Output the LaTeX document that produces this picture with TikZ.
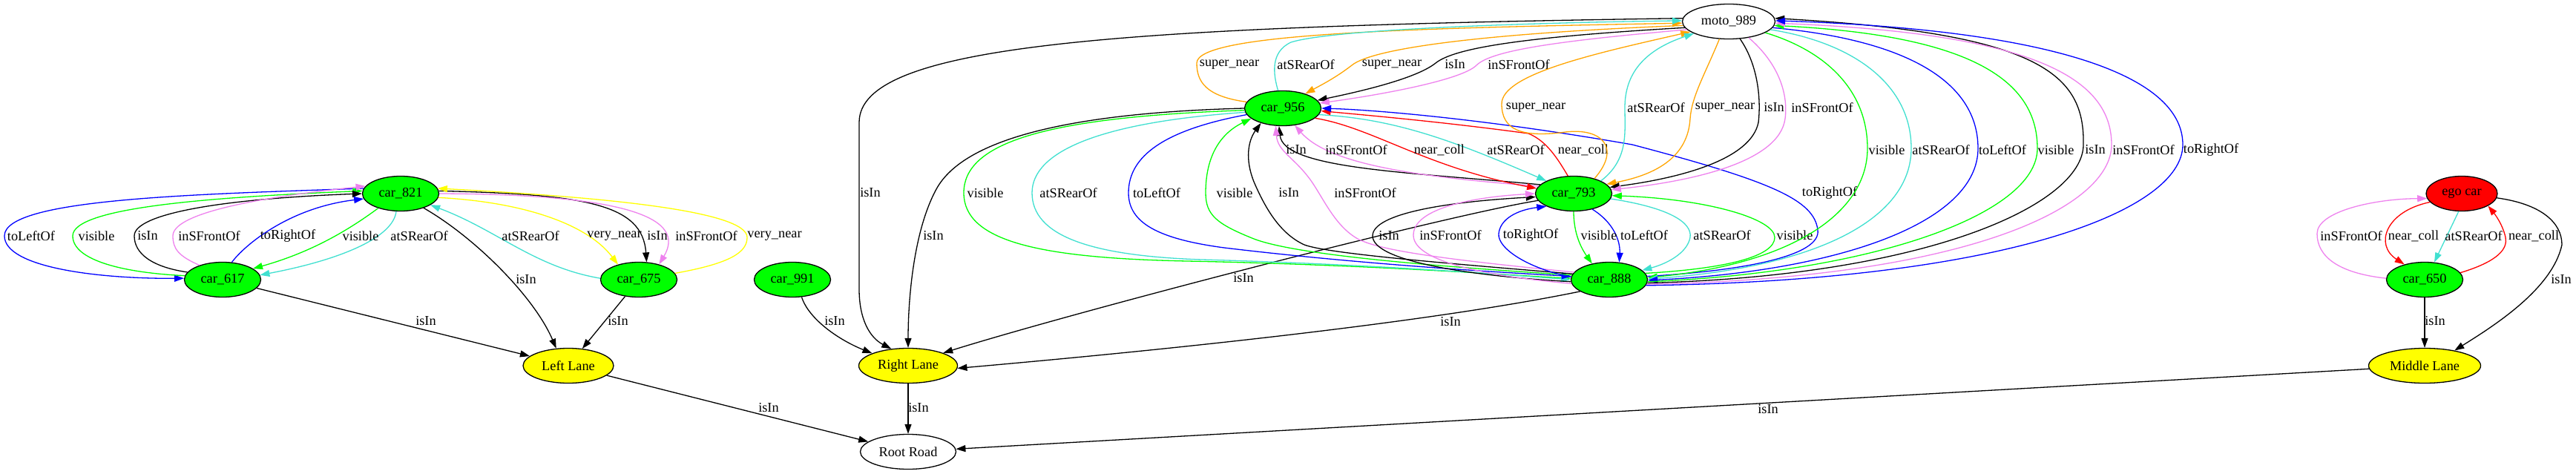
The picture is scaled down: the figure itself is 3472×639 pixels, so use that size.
\documentclass[tikz,border=0pt]{standalone}
\usepackage{fontspec}
\setmainfont{Liberation Serif}
\usetikzlibrary{shapes.geometric,arrows.meta}
\definecolor{gfill}{HTML}{00FF00}
\definecolor{yfill}{HTML}{FFFF00}
\definecolor{rfill}{HTML}{FF0000}
\definecolor{cBlue}{HTML}{0000FF}
\definecolor{cGreen}{HTML}{00FF00}
\definecolor{cCyan}{HTML}{40E0D0}
\definecolor{cViolet}{HTML}{EE82EE}
\definecolor{cOrange}{HTML}{FFA500}
\definecolor{cYellow}{HTML}{FFFF00}
\definecolor{cRed}{HTML}{FF0000}
\newcommand\lblfont{\fontsize{18.3pt}{22pt}\selectfont}
\begin{document}
\begin{tikzpicture}[x=1pt,y=-1pt,
  nd/.style={ellipse,draw=black,line width=1.3pt,inner sep=0pt,minimum height=47pt,font=\lblfont},
  carnd/.style={nd,fill=gfill,minimum width=103pt},
  lanend/.style={nd,fill=yfill},
  edg/.style={line width=1.3pt,-{Triangle[length=13pt,width=9pt]}},
  lb/.style={font=\lblfont,inner sep=0pt,anchor=center}]
\useasboundingbox[fill=white] (0,0) rectangle (3472,639);
% nodes
\node[carnd] (car821) at (540,261) {car\_821};
\node[carnd] (car617) at (300,377) {car\_617};
\node[carnd] (car675) at (861,377) {car\_675};
\node[carnd] (car991) at (1068,377) {car\_991};
\node[lanend,minimum width=122pt] (leftlane) at (766,493) {Left Lane};
\node[lanend,minimum width=133pt] (rightlane) at (1224,493) {Right Lane};
\node[nd,minimum width=129pt] (rootroad) at (1224,609) {Root Road};
\node[carnd] (car956) at (1729,146) {car\_956};
\node[nd,minimum width=125pt] (moto) at (2330,29) {moto\_989};
\node[carnd] (car793) at (2121,261) {car\_793};
\node[carnd] (car888) at (2169,377) {car\_888};
\node[nd,fill=rfill,minimum width=96pt] (ego) at (3318,261) {ego car};
\node[carnd] (car650) at (3268,377) {car\_650};
\node[lanend,minimum width=151pt] (middlelane) at (3268,493) {Middle Lane};
% ---- left cluster
\draw[edg,cBlue] (car821.172) .. controls (260,262) and (6,268) .. (6,318) .. controls (6,360) and (130,376) .. (car617.178);
\draw[edg,cGreen] (car617.174) .. controls (170,368) and (98,352) .. (98,318) .. controls (98,280) and (280,266) .. (car821.176);
\draw[edg,black] (car617.168) .. controls (205,360) and (181,342) .. (181,318) .. controls (181,288) and (300,268) .. (car821.180);
\draw[edg,cViolet] (car617.148) .. controls (240,345) and (233,335) .. (233,318) .. controls (233,290) and (330,268) .. (car821.168);
\draw[edg,cBlue] (car617.62) .. controls (330,330) and (390,280) .. (car821.188);
\draw[edg,cGreen] (car821.213) .. controls (470,310) and (420,340) .. (car617.20);
\draw[edg,cCyan] (car821.256) .. controls (530,320) and (460,350) .. (car617.7);
\draw[edg,cCyan] (car675.178) .. controls (720,360) and (670,310) .. (car821.-21);
\draw[edg,cYellow] (car821.-6) .. controls (700,272) and (790,300) .. (car675.144);
\draw[edg,black] (car821.4) .. controls (790,262) and (866,275) .. (car675.66);
\draw[edg,cViolet] (car821.0) .. controls (850,262) and (925,295) .. (car675.37);
\draw[edg,cYellow] (car675.10) .. controls (985,355) and (1007,340) .. (1007,320) .. controls (1007,285) and (820,266) .. (car821.8);
\node[lb] (l1) at (42,318) {toLeftOf};
\node[lb] (l2) at (130,318) {visible};
\node[lb] (l3) at (199,318) {isIn};
\node[lb] (l4) at (282,318) {inSFrontOf};
\node[lb] (l5) at (388,318) {toRightOf};
\node[lb] (l6) at (486,318) {visible};
\node[lb] (l7) at (565,318) {atSRearOf};
\node[lb] (l8) at (715,318) {atSRearOf};
\node[lb] (l9) at (828,318) {very\_near};
\node[lb] (l10) at (886,318) {isIn};
\node[lb] (l11) at (952,318) {inSFrontOf};
\node[lb] (l12) at (1044,318) {very\_near};
% ---- lanes
\draw[edg] (car821.-32) .. controls (640,320) and (720,400) .. (leftlane.125);
\draw[edg] (car617) -- (leftlane);
\draw[edg] (car675) -- (leftlane);
\draw[edg] (leftlane) -- (rootroad);
\draw[edg] (car991.-62) .. controls (1090,430) and (1130,458) .. (rightlane.161);
\draw[edg] (rightlane) -- (rootroad);
\draw[edg] (middlelane) -- (rootroad);
\draw[edg] (car888.202) .. controls (1900,440) and (1500,478) .. (rightlane.-3);
\draw[edg] (car793.191) .. controls (1950,290) and (1450,420) .. (rightlane.20);
\draw[edg] (car956.180) .. controls (1450,152) and (1300,185) .. (1262,255) .. controls (1232,310) and (1224,400) .. (rightlane.90);
\draw[edg] (moto.176) .. controls (1500,36) and (1158,60) .. (1158,165) -- (1158,390) .. controls (1158,430) and (1172,455) .. (rightlane.135);
\node[lb] (l13) at (709,377) {isIn};
\node[lb] (l14) at (574,433) {isIn};
\node[lb] (l15) at (833,433) {isIn};
\node[lb] (l16) at (1036,550) {isIn};
\node[lb] (l17) at (1125,433) {isIn};
\node[lb] (l18) at (1238,550) {isIn};
\node[lb] (l19) at (2383,552) {isIn};
\node[lb] (l20) at (1173,260) {isIn};
\node[lb] (l21) at (1258,318) {isIn};
\node[lb] (l22) at (1676,375) {isIn};
\node[lb] (l23) at (1955,434) {isIn};
% ---- moto / car956
\draw[edg,cOrange] (car956.170) .. controls (1625,130) and (1613,110) .. (1613,85) .. controls (1613,45) and (1900,38) .. (moto.182);
\draw[edg,cCyan] (car956.105) .. controls (1716,100) and (1712,70) .. (1740,57) .. controls (1800,38) and (2100,30) .. (moto.179);
\draw[edg,cOrange] (moto.185) .. controls (2000,45) and (1850,65) .. (1822,88) .. controls (1800,105) and (1780,115) .. (car956.33);
\draw[edg,black] (moto.188) .. controls (2050,50) and (1960,65) .. (1935,85) .. controls (1910,105) and (1840,122) .. (car956.13);
\draw[edg,cViolet] (moto.191) .. controls (2100,55) and (2010,68) .. (1990,88) .. controls (1970,108) and (1860,128) .. (car956.8);
\node[lb] (l24) at (1657,87) {super\_near};
\node[lb] (l25) at (1760,87) {atSRearOf};
\node[lb] (l26) at (1876,87) {super\_near};
\node[lb] (l27) at (1961,87) {isIn};
\node[lb] (l28) at (2047,87) {inSFrontOf};
% ---- car956 / car793
\draw[edg,black] (car793.165) .. controls (1900,232) and (1730,228) .. (car956.258);
\draw[edg,cViolet] (car793.168) .. controls (1900,238) and (1790,220) .. (car956.305);
\draw[edg,cRed] (car956.-17) .. controls (1850,172) and (1920,225) .. (car793.172);
\draw[edg,cCyan] (car956.-10) .. controls (1880,160) and (1960,190) .. (car793.155);
\draw[edg,cRed] (car793.108) .. controls (2100,215) and (2085,190) .. (2060,180) .. controls (1950,165) and (1850,156) .. (car956.-4);
\draw[edg,cBlue] (car888.5) .. controls (2350,365) and (2455,345) .. (2450,310) .. controls (2445,270) and (2390,245) .. (2200,195) .. controls (2000,160) and (1850,148) .. (car956.0);
\node[lb] (l29) at (1747,202) {isIn};
\node[lb] (l30) at (1828,202) {inSFrontOf};
\node[lb] (l31) at (1940,202) {near\_coll};
\node[lb] (l32) at (2043,202) {atSRearOf};
\node[lb] (l33) at (2134,202) {near\_coll};
\node[lb] (l34) at (2466,260) {toRightOf};
% ---- moto / car793
\draw[edg,cOrange] (car793.36) .. controls (2185,200) and (2160,172) .. (2110,178) .. controls (2050,186) and (2024,175) .. (2024,140) .. controls (2024,100) and (2150,72) .. (moto.195);
\draw[edg,cCyan] (car793.25) .. controls (2195,215) and (2190,180) .. (2190,145) .. controls (2190,100) and (2215,68) .. (moto.199);
\draw[edg,cOrange] (moto.242) .. controls (2298,100) and (2280,130) .. (2278,160) .. controls (2275,210) and (2235,235) .. (car793.16);
\draw[edg,black] (moto.303) .. controls (2368,85) and (2374,130) .. (2370,165) .. controls (2360,215) and (2265,240) .. (car793.10);
\draw[edg,cViolet] (moto.321) .. controls (2400,88) and (2410,130) .. (2406,160) .. controls (2398,220) and (2275,245) .. (car793.6);
\node[lb] (l35) at (2070,145) {super\_near};
\node[lb] (l36) at (2232,145) {atSRearOf};
\node[lb] (l37) at (2325,145) {super\_near};
\node[lb] (l38) at (2391,145) {isIn};
\node[lb] (l39) at (2456,145) {inSFrontOf};
% ---- car956 / car888
\draw[edg,cGreen] (car956.183) .. controls (1400,158) and (1299,195) .. (1299,260) .. controls (1299,325) and (1400,348) .. (1600,352) .. controls (1850,357) and (2050,372) .. (car888.178);
\draw[edg,cCyan] (car956.186) .. controls (1480,165) and (1391,205) .. (1391,260) .. controls (1391,318) and (1470,345) .. (1620,350) .. controls (1870,357) and (2050,372) .. (car888.180);
\draw[edg,cBlue] (car956.190) .. controls (1570,175) and (1521,210) .. (1521,260) .. controls (1521,300) and (1560,322) .. (1650,334) .. controls (1850,358) and (2040,368) .. (car888.175);
\draw[edg,cGreen] (car888.173) .. controls (1950,360) and (1750,345) .. (1690,322) .. controls (1640,302) and (1625,290) .. (1625,260) .. controls (1625,210) and (1645,180) .. (car956.198);
\draw[edg,black] (car888.171) .. controls (1950,355) and (1790,342) .. (1758,330) .. controls (1725,315) and (1705,280) .. (1690,245) .. controls (1678,215) and (1682,190) .. (car956.214);
\draw[edg,cViolet] (car888.168) .. controls (1950,350) and (1860,338) .. (1830,322) .. controls (1800,305) and (1785,270) .. (1768,245) .. controls (1745,212) and (1722,205) .. (car956.248);
\node[lb] (l40) at (1328,260) {visible};
\node[lb] (l41) at (1440,260) {atSRearOf};
\node[lb] (l42) at (1559,260) {toLeftOf};
\node[lb] (l43) at (1664,260) {visible};
\node[lb] (l44) at (1737,260) {isIn};
\node[lb] (l45) at (1840,260) {inSFrontOf};
% ---- car793 / car888
\draw[edg,black] (car888.183) .. controls (1980,372) and (1850,352) .. (1850,318) .. controls (1850,288) and (1950,272) .. (car793.185);
\draw[edg,cViolet] (car888.186) .. controls (2000,372) and (1905,352) .. (1905,317) .. controls (1905,282) and (1980,266) .. (car793.180);
\draw[edg,cBlue] (car888.176) .. controls (2060,362) and (2018,335) .. (2020,315) .. controls (2022,295) and (2045,283) .. (car793.205);
\draw[edg,cGreen] (car793.-90) .. controls (2121,310) and (2128,330) .. (car888.137);
\draw[edg,cBlue] (car793.-40) .. controls (2175,300) and (2184,325) .. (car888.60);
\draw[edg,cCyan] (car793.-8) .. controls (2250,280) and (2281,300) .. (2278,320) .. controls (2274,342) and (2245,356) .. (car888.16);
\draw[edg,cGreen] (car888.10) .. controls (2330,362) and (2392,345) .. (2392,320) .. controls (2392,295) and (2300,268) .. (car793.-3);
\node[lb] (l46) at (1872,318) {isIn};
\node[lb] (l47) at (1955,317) {inSFrontOf};
\node[lb] (l48) at (2063,317) {toRightOf};
\node[lb] (l49) at (2155,317) {visible};
\node[lb] (l50) at (2216,317) {toLeftOf};
\node[lb] (l51) at (2321,317) {atSRearOf};
\node[lb] (l52) at (2419,317) {visible};
% ---- moto / car888
\draw[edg,cGreen] (moto.-17) .. controls (2465,70) and (2517,125) .. (2517,200) .. controls (2517,285) and (2420,355) .. (car888.3);
\draw[edg,cCyan] (moto.-11) .. controls (2500,58) and (2576,115) .. (2576,200) .. controls (2576,295) and (2450,360) .. (car888.1);
\draw[edg,cBlue] (moto.-8) .. controls (2580,55) and (2666,115) .. (2666,200) .. controls (2666,300) and (2480,365) .. (car888.-1);
\draw[edg,cGreen] (car888.-3) .. controls (2520,368) and (2746,290) .. (2746,200) .. controls (2746,110) and (2660,48) .. (moto.-5);
\draw[edg,black] (car888.-5) .. controls (2600,372) and (2808,275) .. (2808,195) .. controls (2810,100) and (2750,45) .. (moto.4);
\draw[edg,cViolet] (car888.-7) .. controls (2650,375) and (2846,280) .. (2846,195) .. controls (2846,105) and (2740,45) .. (moto.-2);
\draw[edg,cBlue] (car888.-9) .. controls (2700,378) and (2942,285) .. (2942,195) .. controls (2942,100) and (2760,40) .. (moto.1);
\node[lb] (l53) at (2543,202) {visible};
\node[lb] (l54) at (2616,202) {atSRearOf};
\node[lb] (l55) at (2699,202) {toLeftOf};
\node[lb] (l56) at (2771,202) {visible};
\node[lb] (l57) at (2824,202) {isIn};
\node[lb] (l58) at (2889,202) {inSFrontOf};
\node[lb] (l59) at (2980,202) {toRightOf};
% ---- ego / car650
\draw[edg,cViolet] (car650.178) .. controls (3150,368) and (3123,345) .. (3123,315) .. controls (3123,285) and (3200,268) .. (ego.188);
\draw[edg,cRed] (ego.195) .. controls (3215,285) and (3200,330) .. (car650.143);
\draw[edg,cCyan] (ego.260) -- (car650.61);
\draw[edg,cRed] (car650.11) .. controls (3368,352) and (3380,335) .. (3377,320) .. controls (3373,302) and (3362,288) .. (ego.-25);
\draw[edg,black] (ego.-7) .. controls (3425,275) and (3453,300) .. (3453,330) .. controls (3440,390) and (3360,440) .. (middlelane.27);
\draw[edg] (car650) -- (middlelane);
\node[lb] (l60) at (3169,318) {inSFrontOf};
\node[lb] (l61) at (3253,318) {near\_coll};
\node[lb] (l62) at (3334,318) {atSRearOf};
\node[lb] (l63) at (3415,318) {near\_coll};
\node[lb] (l64) at (3452,377) {isIn};
\node[lb] (l65) at (3282,433) {isIn};
\end{tikzpicture}
\end{document}
